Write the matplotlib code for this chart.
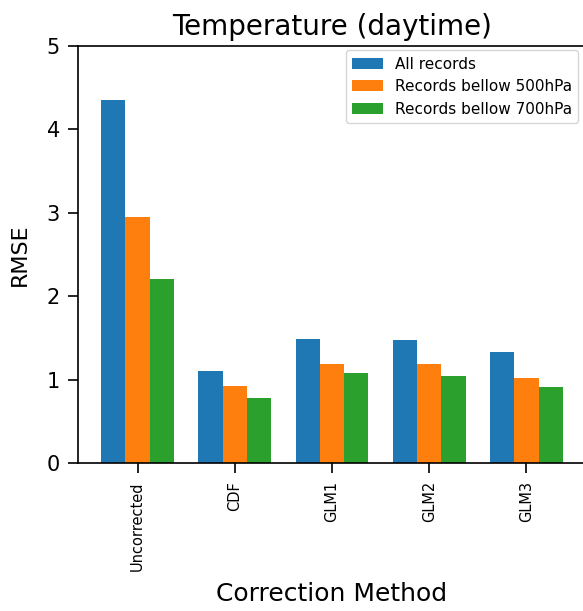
import numpy as np
import matplotlib.pyplot as plt

methods = ['Uncorrected', 'CDF', 'GLM1', 'GLM2', 'GLM3']
all_records = [4.35, 1.10, 1.49, 1.47, 1.33]
below_500 = [2.95, 0.92, 1.19, 1.19, 1.02]
below_700 = [2.21, 0.78, 1.08, 1.04, 0.91]

x = np.arange(len(methods))
width = 0.25

fig = plt.figure(figsize=(5.83, 6.11), dpi=100)
# right spine falls just outside the picture, as in the cropped original
ax = fig.add_axes([0.134, 0.242, 0.871, 0.683])

ax.bar(x - width, all_records, width, label='All records')
ax.bar(x, below_500, width, label='Records bellow 500hPa')
ax.bar(x + width, below_700, width, label='Records bellow 700hPa')

ax.set_ylim(0, 5)
ax.set_yticks([0, 1, 2, 3, 4, 5])
ax.set_xticks(x)
ax.set_xticklabels(methods, rotation=90, fontsize=10.5)
ax.tick_params(axis='y', labelsize=15)
ax.tick_params(length=7, width=1.2, pad=6)
for s in ax.spines.values():
    s.set_linewidth(1.2)
ax.set_ylabel('RMSE', fontsize=16, labelpad=12)
ax.set_xlabel('Correction Method', fontsize=18, labelpad=8)
ax.set_title('Temperature (daytime)', fontsize=20, pad=8)
ax.legend(fontsize=11, loc='upper right', borderaxespad=0.3,
          bbox_to_anchor=(0.994, 1))

fig.savefig('out.png', dpi=100)
